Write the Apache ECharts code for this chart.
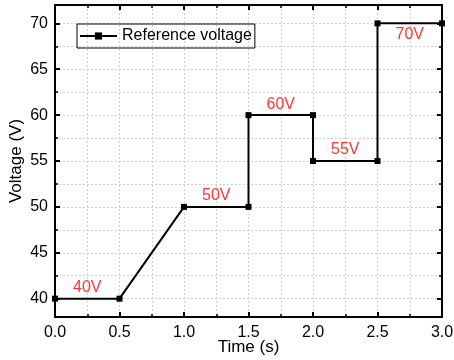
<!DOCTYPE html>
<html>
<head>
<meta charset="utf-8">
<script src="https://cdn.jsdelivr.net/npm/echarts@6/dist/echarts.min.js"></script>
<style>
  html, body { margin: 0; padding: 0; background: #fff; }
  #chart { width: 454px; height: 360px; }
</style>
</head>
<body>
<div id="chart"></div>
<script>
// step-wise reference voltage
const timeS = [0, 0.5, 1.0, 1.5, 1.5, 2.0, 2.0, 2.5, 2.5, 3.0];
const voltage = [40, 40, 50, 50, 60, 60, 55, 55, 70, 70];
const xTicks = ['0.0', '0.5', '1.0', '1.5', '2.0', '2.5', '3.0'];
const yMajor = [40, 45, 50, 55, 60, 65, 70];
const yMinor = [42.5, 47.5, 52.5, 57.5, 62.5, 67.5];

const font = 'Liberation Sans, Arial, sans-serif';

// labels sit at the middle of every flat segment
const flatLabels = [];
for (let i = 0; i < timeS.length - 1; i++) {
  if (voltage[i] === voltage[i + 1] && timeS[i] !== timeS[i + 1]) {
    flatLabels.push({
      value: [(timeS[i] + timeS[i + 1]) / 2, voltage[i]],
      label: { position: i === timeS.length - 2 ? 'bottom' : 'top' }
    });
  }
}

const myChart = echarts.init(document.getElementById('chart'));

const gridLine = { show: true, lineStyle: { color: '#d0d0d0', type: [2, 2], width: 1 } };
const axisLine = { show: true, onZero: false, lineStyle: { color: '#000', width: 2 } };

function xAx(pos, labels) {
  return {
    type: 'value', position: pos, min: 0, max: 3, interval: 0.5,
    name: labels ? 'Time (s)' : '', nameLocation: 'middle', nameGap: 22,
    nameMoveOverlap: false,
    nameTextStyle: { fontFamily: font, fontSize: 17, color: '#000' },
    axisLine: axisLine,
    axisTick: { show: true, inside: true, length: 5, lineStyle: { color: '#000', width: 2 } },
    minorTick: { show: true, splitNumber: 2, length: 3, lineStyle: { color: '#000', width: 1.5 } },
    axisLabel: {
      show: labels, margin: 8, fontFamily: font, fontSize: 16, color: '#000',
      formatter: v => xTicks[Math.round(v / 0.5)]
    },
    splitLine: labels ? gridLine : { show: false },
    minorSplitLine: labels ? gridLine : { show: false }
  };
}

function yAx(pos, values, len, labels, grid) {
  return {
    type: 'value', position: pos, min: 38, max: 72,
    name: labels ? 'Voltage (V)' : '', nameLocation: 'middle', nameGap: 30,
    nameMoveOverlap: false,
    nameTextStyle: { fontFamily: font, fontSize: 17, color: '#000' },
    axisLine: axisLine,
    axisTick: { show: true, inside: true, length: len, customValues: values,
      lineStyle: { color: '#000', width: len > 4 ? 2 : 1.5 } },
    axisLabel: {
      show: labels, margin: 7, fontFamily: font, fontSize: 16, color: '#000',
      customValues: values
    },
    splitLine: grid ? gridLine : { show: false }
  };
}

myChart.setOption({
  animation: false,
  grid: { left: 55, right: 12, top: 5, bottom: 43, outerBoundsMode: 'none' },
  legend: {
    left: 77, top: 24,
    orient: 'vertical',
    borderColor: '#000', borderWidth: 1, borderRadius: 0,
    padding: [4, 3, 4, 2],
    itemWidth: 37, itemHeight: 9, itemGap: 4,
    textStyle: { fontFamily: font, fontSize: 16, color: '#000' },
    data: ['Reference voltage']
  },
  xAxis: [xAx('bottom', true), xAx('top', false)],
  yAxis: [
    yAx('left', yMajor, 5, true, true),
    yAx('left', yMinor, 3, false, true),
    yAx('right', yMajor, 5, false, false),
    yAx('right', yMinor, 3, false, false)
  ],
  series: [
    {
      name: 'Reference voltage',
      type: 'line',
      data: timeS.map((t, i) => [t, voltage[i]]),
      symbol: 'rect', symbolSize: 6,
      itemStyle: { color: '#000' },
      lineStyle: { color: '#000', width: 2 }
    },
    {
      type: 'scatter',
      data: flatLabels,
      symbolSize: 0,
      silent: true,
      label: {
        show: true, distance: 3, color: '#ff0000', fontFamily: font, fontSize: 16,
        formatter: p => p.value[1] + 'V'
      }
    }
  ]
});
</script>
</body>
</html>
